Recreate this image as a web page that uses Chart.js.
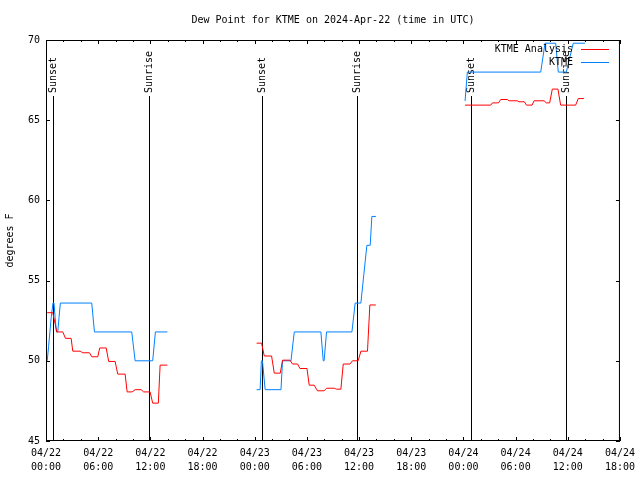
<!DOCTYPE html>
<html><head><meta charset="utf-8">
<script src="https://cdn.jsdelivr.net/npm/chart.js@4"></script>
<style>html,body{margin:0;padding:0;background:#fff;}</style>
</head><body>
<canvas id="c" width="640" height="480"></canvas>
<script>
const titleText = 'Dew Point for KTME on 2024-Apr-22 (time in UTC)';
const yTitle = 'degrees F';
const seriesNames = ['KTME Analysis', 'KTME'];
const seriesColors = ['#ff0000', '#0080ff'];

const xTickDays  = ['04/22','04/22','04/22','04/22','04/23','04/23','04/23','04/23','04/24','04/24','04/24','04/24'];
const xTickTimes = ['00:00','06:00','12:00','18:00','00:00','06:00','12:00','18:00','00:00','06:00','12:00','18:00'];

const eventLabels = ['Sunset','Sunrise','Sunset','Sunrise','Sunset','Sunrise'];
const eventHours  = [0.78, 11.81, 24.79, 35.82, 48.86, 59.77];

// hours since 04/22 00:00 UTC ; null = data gap
const analysisHours = [
  0.14,0.78,1.24,1.93,2.24,2.89,3.08,3.93,4.23,5.0,5.26,5.95,6.18,6.92,7.21,7.95,8.25,9.1,9.33,9.9,10.25,10.94,11.23,11.97,12.27,12.92,13.12,13.96,
  19,
  24.22,24.79,25.10,25.94,26.25,26.94,27.2,28.05,28.35,28.93,29.2,30.01,30.27,30.84,31.22,31.99,32.26,33.14,33.41,33.91,34.18,34.95,35.24,35.9,36.21,36.97,37.24,37.93,
  43,
  48.19,51.14,51.33,52.02,52.29,53.05,53.25,54.2,54.39,55.0,55.25,55.9,56.12,57.27,57.53,57.92,58.22,58.87,59.18,60.91,61.21,61.86
];
const analysisDewF = [
  53.0,53.0,51.8,51.8,51.4,51.4,50.6,50.6,50.5,50.5,50.25,50.25,50.8,50.8,49.96,49.96,49.17,49.17,48.06,48.06,48.2,48.2,48.06,48.06,47.36,47.36,49.73,49.73,
  null,
  51.1,51.1,50.3,50.3,49.23,49.23,50.04,50.04,49.8,49.8,49.52,49.52,48.48,48.48,48.13,48.13,48.29,48.29,48.23,48.23,49.8,49.8,50.0,50.0,50.6,50.6,53.48,53.48,
  null,
  65.94,65.94,66.08,66.08,66.29,66.29,66.21,66.21,66.15,66.15,65.94,65.94,66.21,66.21,66.08,66.08,66.94,66.94,65.94,65.94,66.35,66.35
];

const obsHours = [
  0.14,0.3,0.45,0.6,0.8,0.92,1.05,1.2,1.35,1.5,1.65,5.26,5.57,9.86,10.25,12.27,12.58,13.96,
  19,
  24.22,24.62,24.77,24.89,25.2,27.02,27.2,28.17,28.55,31.61,31.88,31.98,32.26,35.18,35.55,36.21,36.55,36.9,37.28,37.47,37.93,
  43,
  48.19,48.45,56.89,57.38,58.61,58.91,59.83,60.63,61.98
];
const obsDewF = [
  50,50.9,51.8,52.7,53.6,53.6,52.7,51.8,51.8,52.7,53.6,53.6,51.8,51.8,50,50,51.8,51.8,
  null,
  48.2,48.2,50,50,48.2,48.2,50,50,51.8,51.8,50,50,51.8,51.8,53.6,53.6,55.4,57.2,57.2,59,59,
  null,
  66.2,68,68,69.8,69.8,68,68,69.8,69.8
];

const FONT = "'DejaVu Sans Mono', 'Liberation Mono', monospace";
Chart.defaults.font.family = FONT;
Chart.defaults.font.size = 10;
Chart.defaults.color = '#000';

const framePlugin = {
  id: 'frame',
  beforeDatasetsDraw(chart) {
    const ctx = chart.ctx, xs = chart.scales.x, a = chart.chartArea;
    ctx.save();
    ctx.strokeStyle = '#000'; ctx.lineWidth = 1; ctx.fillStyle = '#000';
    ctx.font = '10px ' + FONT;
    eventHours.forEach((h, i) => {
      const px = Math.round(xs.getPixelForValue(h)) + 0.5;
      ctx.beginPath(); ctx.moveTo(px, 96); ctx.lineTo(px, a.bottom); ctx.stroke();
      ctx.save();
      ctx.translate(px, 93); ctx.rotate(-Math.PI / 2);
      ctx.textAlign = 'left'; ctx.textBaseline = 'middle';
      ctx.fillText(eventLabels[i], 0, 0);
      ctx.restore();
    });
    ctx.restore();
  },
  afterDatasetsDraw(chart) {
    const ctx = chart.ctx, xs = chart.scales.x, ys = chart.scales.y, a = chart.chartArea;
    ctx.save();
    ctx.strokeStyle = '#000'; ctx.lineWidth = 1;
    ctx.strokeRect(a.left + 0.5, a.top + 0.5, a.right - a.left - 1, a.bottom - a.top - 1);
    ctx.beginPath();
    for (let h = xs.min; h <= xs.max; h += 2) {
      const px = Math.round(xs.getPixelForValue(h)) + 0.5;
      const len = (h % 6 === 0) ? 4 : 2;
      ctx.moveTo(px, a.bottom); ctx.lineTo(px, a.bottom - len);
      ctx.moveTo(px, a.top); ctx.lineTo(px, a.top + len);
    }
    ys.ticks.forEach(t => {
      const py = Math.round(ys.getPixelForValue(t.value)) + 0.5;
      ctx.moveTo(a.left, py); ctx.lineTo(a.left + 4, py);
      ctx.moveTo(a.right, py); ctx.lineTo(a.right - 4, py);
    });
    ctx.stroke();
    // legend
    ctx.font = '10px ' + FONT;
    ctx.textAlign = 'right'; ctx.textBaseline = 'middle'; ctx.fillStyle = '#000';
    chart.data.datasets.forEach((ds, i) => {
      const y = 49 + i * 13;
      ctx.fillText(ds.label, 573, y);
      ctx.strokeStyle = ds.borderColor;
      ctx.beginPath(); ctx.moveTo(581, y + 0.5); ctx.lineTo(609, y + 0.5); ctx.stroke();
    });
    ctx.restore();
  }
};

new Chart(document.getElementById('c'), {
  type: 'line',
  data: {
    datasets: [
      { label: seriesNames[0], data: analysisHours.map((h, i) => ({ x: h, y: analysisDewF[i] })),
        borderColor: seriesColors[0], borderWidth: 1, pointRadius: 0, fill: false, tension: 0, spanGaps: false },
      { label: seriesNames[1], data: obsHours.map((h, i) => ({ x: h, y: obsDewF[i] })),
        borderColor: seriesColors[1], borderWidth: 1, pointRadius: 0, fill: false, tension: 0, spanGaps: false }
    ]
  },
  options: {
    responsive: false, animation: false, devicePixelRatio: 1,
    layout: { padding: { left: 0, right: 18, top: 0, bottom: 0 } },
    plugins: {
      legend: { display: false },
      tooltip: { enabled: false },
      title: { display: true, text: titleText, fullSize: false, color: '#000',
        font: { size: 10, weight: 'normal', family: FONT, lineHeight: 1.2 },
        padding: { top: 14, bottom: 14 } }
    },
    scales: {
      x: { type: 'linear', min: 0, max: 66,
        grid: { display: false, drawTicks: false }, border: { display: false },
        ticks: { stepSize: 6, padding: 5, maxRotation: 0, autoSkip: false,
          font: { size: 10, lineHeight: 1.4 },
          callback: (v, i) => [xTickDays[i], xTickTimes[i]] },
        afterFit: s => { s.height = 39; } },
      y: { min: 45, max: 70,
        grid: { display: false, drawTicks: false }, border: { display: false },
        ticks: { stepSize: 5, padding: 6 },
        title: { display: true, text: yTitle, padding: { top: 4, bottom: 4 }, font: { size: 10 } },
        afterFit: s => { s.width = 46; } }
    }
  },
  plugins: [framePlugin]
});
</script>
</body></html>
